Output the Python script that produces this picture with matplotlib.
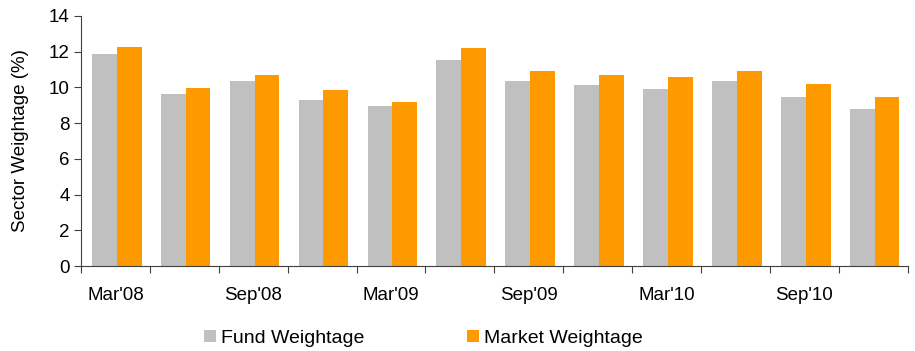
import matplotlib.pyplot as plt
import numpy as np

plt.rcParams['font.family'] = ['Liberation Sans', 'DejaVu Sans']

quarters = ["Mar'08", "Jun'08", "Sep'08", "Dec'08", "Mar'09", "Jun'09",
            "Sep'09", "Dec'09", "Mar'10", "Jun'10", "Sep'10", "Dec'10"]
fund = [11.85, 9.6, 10.35, 9.3, 8.95, 11.55, 10.35, 10.15, 9.9, 10.35, 9.45, 8.8]
market = [12.25, 9.95, 10.7, 9.85, 9.2, 12.2, 10.9, 10.7, 10.6, 10.9, 10.2, 9.45]


def main():
    fig = plt.figure(figsize=(9.15, 3.51), dpi=100, facecolor='white')
    ax = fig.add_axes([0.0885, 0.242, 0.9035, 0.713])

    x = np.arange(len(quarters))
    w = 0.36
    ax.bar(x - w / 2 + 0.02, fund, w, color='#C0C0C0', label='Fund Weightage')
    ax.bar(x + w / 2 + 0.02, market, w, color='#FF9900', label='Market Weightage')

    ax.set_xlim(-0.5, len(quarters) - 0.5)
    ax.set_ylim(0, 14)
    ax.set_yticks(range(0, 15, 2))
    ax.set_ylabel('Sector Weightage (%)', fontsize=13.5)
    ax.yaxis.set_label_coords(-0.063, 0.5)

    # tick marks at category boundaries, labels on every other group
    ax.set_xticks(np.arange(-0.5, len(quarters), 1))
    ax.set_xticklabels([])
    ax.set_xticks(x[::2], minor=True)
    ax.set_xticklabels(quarters[::2], minor=True, fontsize=13.5)
    ax.tick_params(axis='x', which='minor', length=0, pad=15)
    ax.tick_params(axis='x', which='major', length=5, color='#404040')
    ax.tick_params(axis='y', length=5, color='#404040', labelsize=13.5, pad=3)

    for s in ['top', 'right']:
        ax.spines[s].set_visible(False)
    for s in ['left', 'bottom']:
        ax.spines[s].set_color('#404040')

    ax.legend(loc='upper center', bbox_to_anchor=(0.414, -0.185), ncol=2,
              frameon=False, fontsize=14, handlelength=0.6, handleheight=0.6,
              handletextpad=0.25, columnspacing=5.3)

    plt.savefig('out.png', dpi=100)


if __name__ == '__main__':
    main()
